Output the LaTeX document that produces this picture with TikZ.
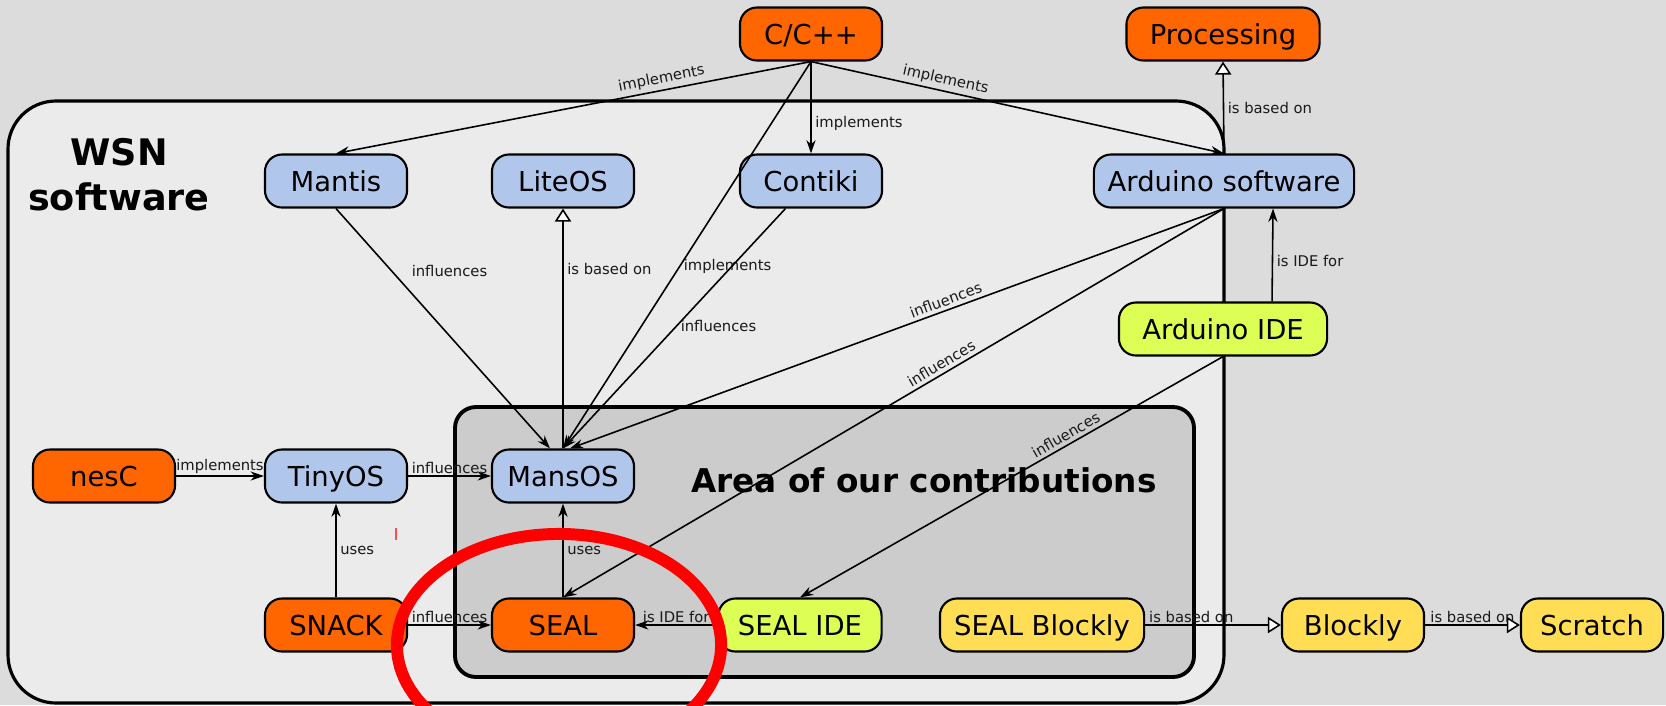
\documentclass[tikz,border=0pt]{standalone}
\usepackage{fontspec}
\setmainfont{DejaVu Sans}
\usepackage{tikz}
\usetikzlibrary{arrows.meta,positioning,calc}
\usepackage{xcolor}
\definecolor{langorange}{RGB}{255,102,0}
\definecolor{osblue}{RGB}{176,198,234}
\definecolor{idelime}{RGB}{221,255,85}
\definecolor{blockyellow}{RGB}{255,221,85}
\definecolor{bggray}{RGB}{220,220,220}
\definecolor{wsngray}{RGB}{235,235,235}
\definecolor{areagray}{RGB}{204,204,204}
\newcommand{\BoxFont}{\fontsize{7.8}{9}\selectfont}
\newcommand{\EdgeFont}{\fontsize{4.2}{5}\selectfont}

\begin{document}
\begin{tikzpicture}[x=0.01cm, y=-0.01cm,
    box/.style={draw, line width=0.6pt, rounded corners=0.17cm,
                minimum height=0.53cm, minimum width=1.42cm, inner sep=0pt,
                text height=7.4pt, text depth=1.7pt,
                align=center, font=\BoxFont},
    arrow/.style={-{Stealth[length=3.8pt, width=2.6pt]}, line width=0.45pt},
    basedon/.style={-{Triangle[fill=white, length=3.7pt, width=4.6pt]}, line width=0.45pt},
    lbl/.style={font=\EdgeFont, inner sep=1pt, text=black!90}
  ]
    % Background and frames
    \fill[bggray] (0,0) rectangle (1666,705);
    \useasboundingbox (0,0) rectangle (1666,705);
    \draw[fill=wsngray, line width=0.9pt, rounded corners=0.48cm] (8,101) rectangle (1224,703);
    \draw[fill=areagray, line width=1.1pt, rounded corners=0.21cm] (455,407) rectangle (1194,677);

    % Titles
    \node[font=\fontsize{10.4}{12.8}\selectfont\bfseries, align=center] (wsn) at (119,175) {WSN\\software};
    \node[font=\fontsize{9.3}{11}\selectfont\bfseries] (area) at (924,480) {Area of our contributions};

    % Languages
    \node[box, fill=langorange] (cpp) at (811,34) {C/C++};
    \node[box, fill=langorange, minimum width=1.93cm] (processing) at (1223,34) {Processing};
    \node[box, fill=langorange] (nesc) at (104,476) {nesC};

    % Operating systems
    \node[box, fill=osblue] (mantis) at (336,181) {Mantis};
    \node[box, fill=osblue] (liteos) at (563,181) {LiteOS};
    \node[box, fill=osblue] (contiki) at (811,181) {Contiki};
    \node[box, fill=osblue, minimum width=2.6cm] (ardsw) at (1224,181) {Arduino software};
    \node[box, fill=osblue] (tinyos) at (336,476) {TinyOS};
    \node[box, fill=osblue] (mansos) at (563,476) {MansOS};

    % Programming tools
    \node[box, fill=langorange] (snack) at (336,625) {SNACK};
    \node[box, fill=langorange] (seal) at (563,625) {SEAL};
    \node[box, fill=idelime, minimum width=2.08cm] (ardide) at (1223,329) {Arduino IDE};
    \node[box, fill=idelime, minimum width=1.63cm] (sealide) at (800,625) {SEAL IDE};
    \node[box, fill=blockyellow, minimum width=2.04cm] (sealblockly) at (1042,625) {SEAL Blockly};
    \node[box, fill=blockyellow] (blockly) at (1353,625) {Blockly};
    \node[box, fill=blockyellow] (scratch) at (1592,625) {Scratch};

    % Arrows from C/C++
    \draw[arrow] (cpp.south) -- node[lbl, sloped, above, pos=0.31] {implements} (mantis.north);
    \draw[arrow] (cpp.south) -- node[lbl, right, pos=0.67] {implements} (contiki.north);
    \draw[arrow] (cpp.south) -- node[lbl, sloped, above, pos=0.32] {implements} (ardsw.north);
    \draw[arrow] (cpp.south) -- node[lbl, right, pos=0.53] {implements} (mansos.north);

    % Arrows into MansOS
    \draw[arrow] (mantis.south) -- node[lbl, right=4.5pt, pos=0.26] {influences} ([xshift=-0.13cm]mansos.north);
    \draw[arrow] (contiki) -- node[lbl, right, pos=0.49] {influences} (mansos.north);
    \draw[arrow] (ardsw.south) -- node[lbl, sloped, above, pos=0.42] {influences} ([xshift=0.07cm]mansos.north);
    \draw[arrow] (tinyos) -- node[lbl, above, inner sep=0.5pt] {influences} (mansos);
    \draw[basedon] (mansos.north) -- node[lbl, right, pos=0.75] {is based on} (liteos.south);

    % Arduino side
    \draw[basedon] (ardsw.north) -- node[lbl, right] {is based on} (processing.south);
    \draw[arrow] ([xshift=0.49cm]ardide.north) -- node[lbl, right, pos=0.44] {is IDE for} ([xshift=0.49cm]ardsw.south);
    \draw[arrow] (ardsw.south) -- node[lbl, sloped, above, pos=0.42] {influences} (seal.north);
    \draw[arrow] (ardide.south) -- node[lbl, sloped, above, pos=0.36] {influences} (sealide.north);

    % Bottom row
    \draw[arrow] (nesc) -- node[lbl, above, inner sep=0.5pt] {implements} (tinyos);
    \draw[arrow] (snack) -- node[lbl, right] {uses} (tinyos);
    \draw[arrow] (snack) -- node[lbl, above, inner sep=0.5pt] {influences} (seal);
    \draw[arrow] (seal) -- node[lbl, right] {uses} (mansos);
    \draw[arrow] (sealide) -- node[lbl, above, inner sep=0.5pt] {is IDE for} (seal);
    \draw[basedon] (sealblockly) -- node[lbl, above, inner sep=0.5pt, pos=0.34] {is based on} (blockly);
    \draw[basedon] (blockly) -- node[lbl, above, inner sep=0.5pt] {is based on} (scratch);

    % Highlight
    \draw[red, line width=3.4pt] (559,645) ellipse [x radius=1.62cm, y radius=1.11cm];
    \draw[red!70, line width=0.4pt] (396,528) -- (396,540);
  \end{tikzpicture}
\end{document}
